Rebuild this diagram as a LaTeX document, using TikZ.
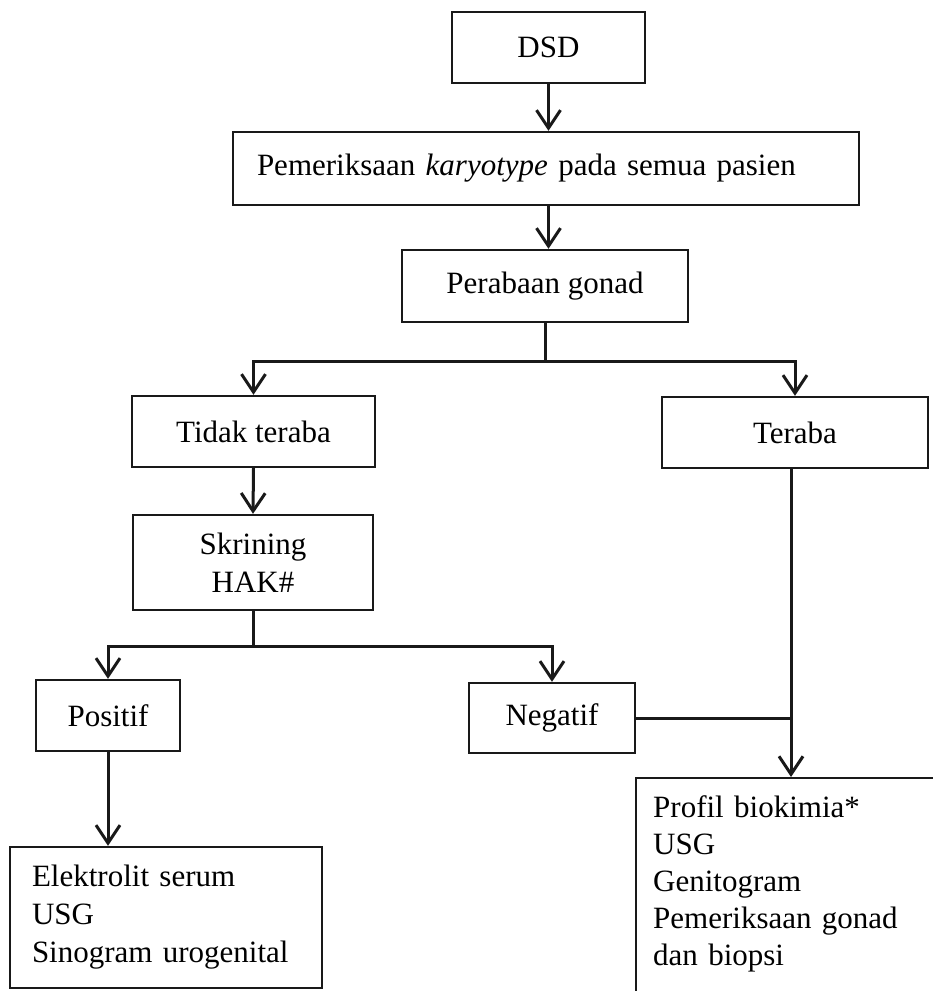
\documentclass[tikz,border=0pt]{standalone}
\usepackage{fontspec}
\setmainfont{Liberation Serif}
\usetikzlibrary{arrows.meta}

\begin{document}
\begin{tikzpicture}[x=1pt,y=-1pt,
  font=\fontsize{31}{38}\selectfont,
  box/.style={draw=black!90, line width=2.4pt, rectangle, inner sep=0pt, align=center},
  link/.style={draw=black!90, line width=3pt},
  arr/.style={link, -{Straight Barb[length=18pt,width=24pt]}}]

\useasboundingbox (0,0) rectangle (933,991);
\fill[white] (0,0) rectangle (933,991);

% boxes
\node[box, minimum width=193pt, minimum height=71pt] (dsd) at (548.5,47.5) {DSD};
\node[box, minimum width=626pt, minimum height=73pt, text width=578pt,
      inner xsep=24pt, align=left] (kary) at (546,168.5)
      {Pemeriksaan \textit{karyotype} pada semua pasien};
\node[box, minimum width=286pt, minimum height=72pt] (gonad) at (545,286) {Perabaan gonad};
\node[box, minimum width=243pt, minimum height=71pt] (tidak) at (253.5,431.5) {Tidak teraba};
\node[box, minimum width=266pt, minimum height=71pt] (teraba) at (795,432.5) {Teraba};
\node[box, minimum width=240pt, minimum height=95pt] (skrin) at (253,562.5) {Skrining\\HAK\#};
\node[box, minimum width=144pt, minimum height=71pt] (positif) at (108,715.5) {Positif};
\node[box, minimum width=166pt, minimum height=70pt] (negatif) at (552,718) {Negatif};
\node[box, minimum width=312pt, minimum height=141pt, text width=268pt,
      inner xsep=22pt, align=left] (elek) at (166,917.5)
      {Elektrolit serum\\USG\\Sinogram urogenital};
% this box runs on past the right and bottom edges
\node[box, anchor=north west, text width=300pt, inner xsep=17pt, inner ysep=17pt,
      text depth=200pt, align=left, font=\fontsize{31}{37}\selectfont] (profil) at (635,777)
      {Profil biokimia*\\USG\\Genitogram\\Pemeriksaan gonad\\dan biopsi};

% junction points
\coordinate (b1) at (545,361);
\coordinate (b2) at (253,646);
\coordinate (tj) at (791,718);

% connectors
\draw[arr] (dsd.south) -- (dsd.south |- kary.north);
\draw[arr] (dsd.south |- kary.south) -- (dsd.south |- gonad.north);
\draw[link] (gonad.south) -- (b1);
\draw[arr] (b1) -| (tidak.north);
\draw[arr] (b1) -| (teraba.north);
\draw[arr] (tidak.south) -- (skrin.north);
\draw[link] (skrin.south) -- (b2);
\draw[arr] (b2) -| (positif.north);
\draw[arr] (b2) -| (negatif.north);
\draw[arr] (positif.south) -- (positif.south |- elek.north);
\draw[arr] (teraba.south -| tj) -- (tj |- profil.north);
\draw[link] (negatif.east) -- (tj);
\end{tikzpicture}
\end{document}
